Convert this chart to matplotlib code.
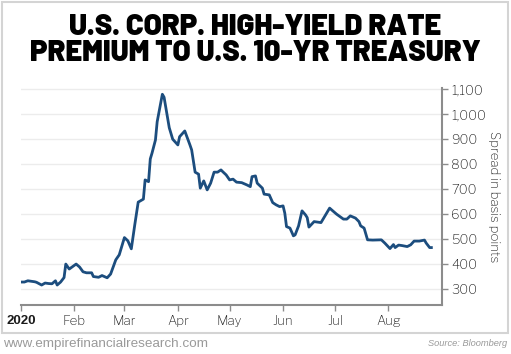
import matplotlib.pyplot as plt
import matplotlib.ticker as mticker
from matplotlib.patches import Rectangle
import pandas as pd

# days since Jan 1, 2020 and spread in basis points
days = [0, 2, 4, 8, 9, 12, 14, 16, 18, 20, 21, 23, 25, 26, 28, 30, 32, 34, 36, 38,
        41, 42, 45, 47, 50, 52, 55, 57, 60, 62, 64, 66, 68, 71, 72, 74, 75, 76, 78, 79,
        82, 83, 86, 88, 91, 92, 95, 98, 99, 101, 103, 104, 106, 108, 110, 112, 114, 116,
        117, 119, 121, 123, 125, 128, 131, 133, 134, 136, 137, 140, 141, 144, 146, 148,
        150, 152, 153, 154, 156, 158, 159, 161, 163, 165, 166, 167, 170, 174, 179, 183,
        187, 189, 191, 194, 196, 197, 199, 201, 204, 209, 211, 214, 216, 217, 219, 221,
        224, 226, 228, 231, 234, 235, 237, 238]
spread = [328, 328, 333, 329, 327, 316, 324, 322, 321, 333, 316, 328, 346, 400, 380, 390,
          400, 388, 369, 365, 365, 350, 347, 354, 345, 360, 417, 437, 506, 493, 461, 557,
          648, 660, 737, 730, 821, 844, 897, 970, 1080, 1068, 946, 900, 877, 910, 933, 877,
          857, 768, 760, 704, 733, 697, 724, 768, 768, 777, 770, 757, 737, 740, 728, 726,
          717, 710, 750, 753, 724, 704, 680, 677, 646, 637, 630, 633, 604, 550, 544, 513,
          517, 553, 613, 597, 586, 548, 570, 566, 624, 600, 580, 580, 593, 584, 570, 553,
          544, 497, 496, 497, 484, 462, 478, 466, 476, 474, 470, 477, 492, 492, 496, 484,
          466, 466]

month_ticks = ["2020-01-01", "2020-02-01", "2020-03-01", "2020-04-01", "2020-05-01",
               "2020-06-01", "2020-07-01", "2020-08-01"]
month_labels = ["2020", "Feb", "Mar", "Apr", "May", "Jun", "Jul", "Aug"]
y_ticks = [300, 400, 500, 600, 700, 800, 900, 1000, 1100]

dates = pd.Timestamp("2020-01-01") + pd.to_timedelta(days, unit="D")

plt.rcParams['font.family'] = ['Libre Franklin', 'DejaVu Sans']

fig = plt.figure(figsize=(5.11, 3.54), dpi=100)
ax = fig.add_axes([0.041, 0.1384, 0.8234, 0.613])

# grey frame around the chart
fig.patches.append(Rectangle((2 / 511, 1 - 333 / 354), 506 / 511, 331 / 354,
                             transform=fig.transFigure, fill=False,
                             edgecolor="#d4d4d4", linewidth=1.5))

ax.plot(dates, spread, color="#1c4d7e", linewidth=2.0, solid_joinstyle="round")

ax.set_xlim(pd.Timestamp("2020-01-01"), pd.Timestamp("2020-09-01"))
ax.set_ylim(236, 1105)

ax.set_xticks(pd.to_datetime(month_ticks))
ax.set_xticklabels(month_labels)

ax.yaxis.tick_right()
ax.yaxis.set_label_position("right")
ax.set_yticks(y_ticks)
ax.yaxis.set_major_formatter(mticker.StrMethodFormatter("{x:,.0f}"))
ax.set_ylabel("Spread in basis points", rotation=-90, labelpad=10, fontsize=9.5,
              color="#222222")

for s in ["left", "top"]:
    ax.spines[s].set_visible(False)
for s in ["right", "bottom"]:
    ax.spines[s].set_color("#8c8c8c")
    ax.spines[s].set_linewidth(1.5)

ax.tick_params(axis="both", colors="#8c8c8c", labelcolor="#1a1a1a", labelsize=9.5,
               length=4, width=1)
ax.tick_params(axis="y", pad=3)
ax.tick_params(axis="x", pad=3)

# the year label is bold
fig.canvas.draw()
year_lbl = ax.xaxis.get_major_ticks()[0].label1
year_lbl.set_family("Liberation Sans")
year_lbl.set_fontweight("bold")

ax.grid(axis="y", color="#ececec", linewidth=1)
ax.set_axisbelow(True)

title_font = dict(family="Barlow", fontweight="black", fontsize=21,
                  color="black", ha="center", va="center")
fig.text(0.5, 1 - 27 / 354, "U.S. CORP. HIGH-YIELD RATE", **title_font)
fig.text(0.5, 1 - 53 / 354, "PREMIUM TO U.S. 10-YR TREASURY", **title_font)

fig.text(3 / 511, 1 - 344 / 354, "www.empirefinancialresearch.com", ha="left",
         va="center", fontsize=9.7, family="Liberation Sans", color="#9a9a9a")
fig.text(507 / 511, 1 - 344 / 354, "Source: Bloomberg", ha="right", va="center",
         fontsize=6.7, style="italic", family="Liberation Sans", color="#9a9a9a")

fig.savefig("out.png", dpi=100)
